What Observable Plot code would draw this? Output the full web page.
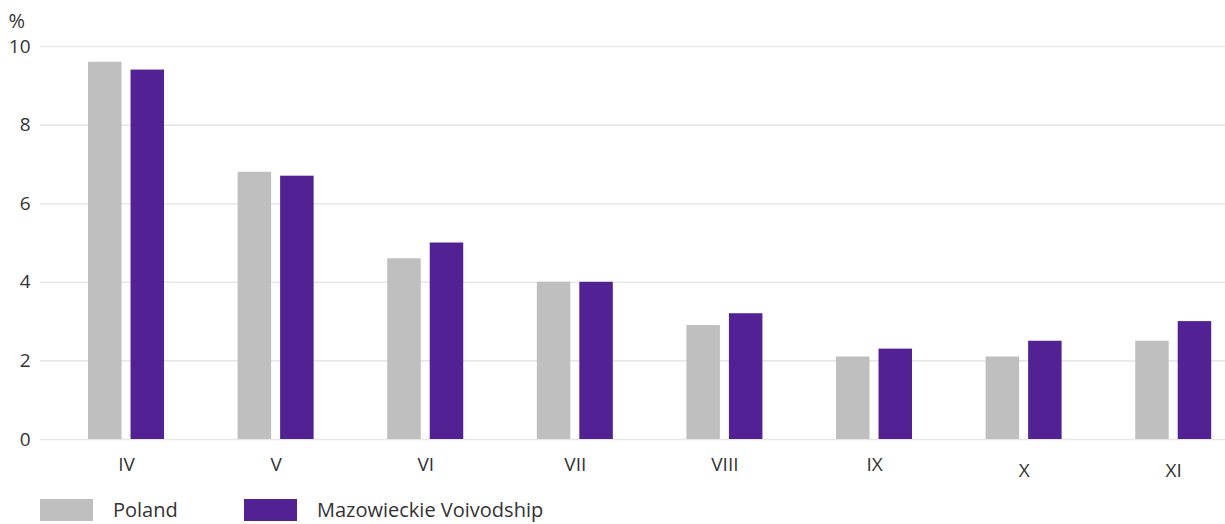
<!DOCTYPE html>
<html>
<head>
<meta charset="utf-8">
<script src="https://cdn.jsdelivr.net/npm/d3@7"></script>
<script src="https://cdn.jsdelivr.net/npm/@observablehq/plot@0.6"></script>
<style>
  html, body { margin: 0; padding: 0; background: #fff; }
  body { width: 1225px; height: 524px; overflow: hidden; font-family: "Open Sans", sans-serif; color: #333; }
  #chart svg { display: block; }
  .legend { display: flex; align-items: center; margin-top: 9px; padding-left: 40px; font-size: 20px; line-height: 22px; color: #333; }
  .legend .item { display: flex; align-items: center; }
  .legend .sw { width: 53px; height: 22px; margin-right: 20px; }
</style>
</head>
<body>
<div id="chart"></div>
<div class="legend" id="legend"></div>
<script>
const months = ["IV", "V", "VI", "VII", "VIII", "IX", "X", "XI"];
const poland = [9.6, 6.8, 4.6, 4.0, 2.9, 2.1, 2.1, 2.5];
const mazowieckie = [9.4, 6.7, 5.0, 4.0, 3.2, 2.3, 2.5, 3.0];
const yTicks = [0, 2, 4, 6, 8, 10];
const seriesNames = ["Poland", "Mazowieckie Voivodship"];
const seriesColors = ["#bfbfbf", "#522193"];

const polandData = months.map((m, i) => ({month: m, value: poland[i]}));
const mazData = months.map((m, i) => ({month: m, value: mazowieckie[i]}));

const chart = Plot.plot({
  width: 1225,
  height: 490,
  marginLeft: 40,
  marginRight: 0,
  marginTop: 46,
  marginBottom: 51,
  x: {domain: months, paddingInner: 0.492, paddingOuter: 0.2066, align: 0.777, round: false, label: null},
  y: {domain: [0, 10], label: null},
  style: {fontFamily: "Open Sans", fontSize: "19px", color: "#333", background: "#fff"},
  marks: [
    Plot.gridY(yTicks, {stroke: "#e8e8e8", strokeOpacity: 1, strokeWidth: 1.6}),
    Plot.barY(polandData, {x: "month", y: "value", fill: seriesColors[0], insetRight: 42.5, insetLeft: 0}),
    Plot.barY(mazData, {x: "month", y: "value", fill: seriesColors[1], insetLeft: 42.5, insetRight: 0}),
    Plot.axisY({ticks: yTicks, tickSize: 0, tickPadding: 10, label: null}),
    Plot.axisX(months.slice(0, 6), {tickSize: 0, tickPadding: 18, label: null}),
    Plot.axisX(months.slice(6), {tickSize: 0, tickPadding: 24, label: null}),
    Plot.text(["%"], {frameAnchor: "top-left", dx: -32, dy: -33, textAnchor: "start", fontSize: 20, fill: "#333"})
  ]
});
document.getElementById("chart").appendChild(chart);

const legend = document.getElementById("legend");
seriesNames.forEach((name, i) => {
  const item = document.createElement("div");
  item.className = "item";
  if (i === 0) item.style.width = "204px";
  const sw = document.createElement("div");
  sw.className = "sw";
  sw.style.background = seriesColors[i];
  const label = document.createElement("span");
  label.textContent = name;
  item.appendChild(sw);
  item.appendChild(label);
  legend.appendChild(item);
});
</script>
</body>
</html>
